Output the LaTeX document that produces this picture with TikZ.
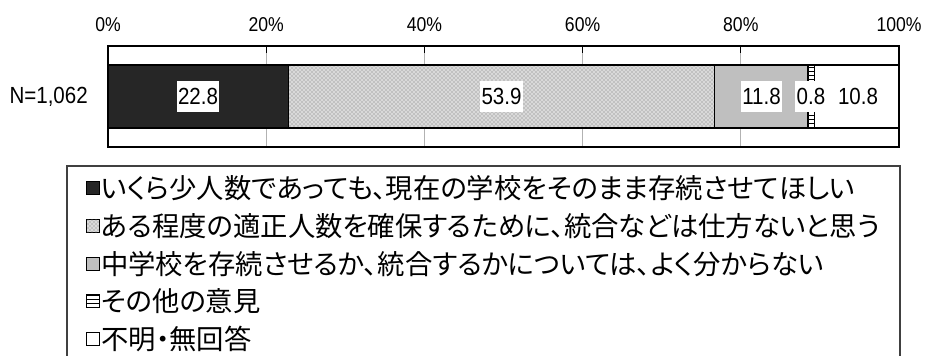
\documentclass[tikz,border=0pt]{standalone}
\usepackage{fontspec}
\setmainfont{Liberation Sans}
\newfontfamily\numfont[FakeStretch=0.88]{Liberation Sans}
\newfontfamily\jpfont[RawFeature=+palt]{Noto Sans CJK JP}
\usetikzlibrary{patterns}

\begin{document}
\begin{tikzpicture}[
            x=0.75pt, y=-0.75pt,
            seg/.style={draw=black, line width=1.1pt},
            tick label/.style={font=\numfont\fontsize{15}{15}\selectfont, inner sep=0pt},
            value label/.style={font=\numfont\fontsize{17.5}{17.5}\selectfont, fill=white, inner xsep=1pt, inner ysep=0pt, minimum height=23pt},
            key/.style={draw=black, line width=0.6pt, minimum size=9.5pt, inner sep=0pt},
            key text/.style={anchor=west, font=\jpfont\fontsize{20.5}{20.5}\selectfont, inner sep=0pt},
            ]
            \useasboundingbox (0,0) rectangle (927,356);
            \def\L{108}
            \def\W{7.91}

            % grid and axis
            \foreach \p in {20,40,60,80} {
                \draw[gray!60, line width=0.6pt] (\L+\p*\W,46) -- (\L+\p*\W,147);
                \draw[black, line width=0.8pt] (\L+\p*\W,46) -- (\L+\p*\W,53);
            }
            \foreach \p in {0,20,40,60,80,100}
                \node[tick label] (t\p) at (\L+\p*\W,25) {\p\%};
            \draw[black, line width=1.1pt] (\L,46) rectangle (\L+100*\W,147);

            % bar
            \draw[seg, fill=black!85] (\L,65) rectangle (288.3,128);
            \fill[gray!30] (288.3,65) rectangle (714.7,128);
            \draw[seg, pattern=crosshatch dots, pattern color=black!55] (288.3,65) rectangle (714.7,128);
            \draw[seg, fill=gray!50] (714.7,65) rectangle (808,128);
            \draw[seg, pattern=horizontal lines, pattern color=black] (808,65) rectangle (814.4,128);
            \draw[seg, fill=white] (814.4,65) rectangle (\L+100*\W,128);

            \node[anchor=east, font=\numfont\fontsize{17.5}{17.5}\selectfont, inner sep=0pt] (n) at (88,96.5) {N=1,062};
            \node[value label] (v1) at (198,96.5) {22.8};
            \node[value label] (v2) at (501.5,96.5) {53.9};
            \node[value label] (v3) at (761.5,96.5) {11.8};
            \node[value label] (v4) at (811,96.5) {0.8};
            \node[value label] (v5) at (858,96.5) {10.8};

            % legend
            \draw[black!75, line width=1pt] (67,356) -- (67,166) -- (900,166) -- (900,356);
            \node[key, fill=black!85] (k1) at (93,188) {};
            \node[key, fill=gray!30, postaction={pattern=crosshatch dots, pattern color=black!55}] (k2) at (93,226) {};
            \node[key, fill=gray!50] (k3) at (93,264) {};
            \node[key, pattern=horizontal lines] (k4) at (93,301) {};
            \node[key, fill=white] (k5) at (93,339) {};
            \node[key text] (l1) at (101,188) {いくら少人数であっても、現在の学校をそのまま存続させてほしい};
            \node[key text] (l2) at (101,226) {ある程度の適正人数を確保するために、統合などは仕方ないと思う};
            \node[key text] (l3) at (101,264) {中学校を存続させるか、統合するかについては、よく分からない};
            \node[key text] (l4) at (101,301) {その他の意見};
            \node[key text] (l5) at (101,339) {不明・無回答};
        \end{tikzpicture}
\end{document}
